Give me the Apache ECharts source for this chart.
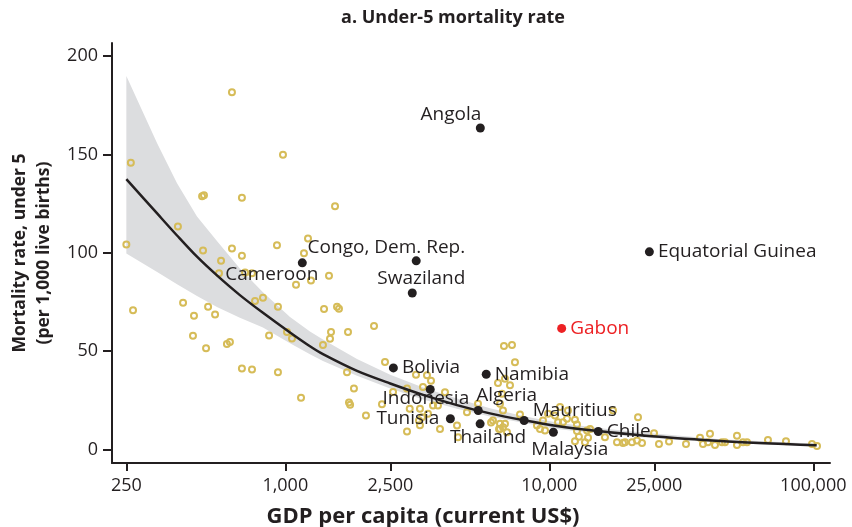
<!DOCTYPE html>
<html>
<head>
<meta charset="utf-8">
<script src="https://cdn.jsdelivr.net/npm/echarts@6/dist/echarts.min.js"></script>
<style>
  html, body { margin: 0; padding: 0; background: #fff; }
  #chart { width: 852px; height: 527px; }
</style>
</head>
<body>
<div id="chart"></div>
<script>
'use strict'

// axis ticks
const gdpTicks = [250, 1000, 2500, 10000, 25000, 100000]
const mortalityTicks = [0, 50, 100, 150, 200]

// fitted curve and its confidence band
const fitGdp = [250, 327, 389, 463, 551, 673, 823, 1042, 1240, 1389, 1869, 2497, 3327, 4470, 5960, 8020, 10690, 15290, 22080, 44400, 103000]
const fitMortality = [137.4, 120, 108.8, 98, 88.5, 78.5, 69.5, 59.5, 52.5, 48.5, 40, 33.6, 27.8, 22.6, 18.4, 14.9, 12, 9.4, 7.3, 4.4, 2.2]
const bandUpper = [189.8, 155.6, 135.3, 118.5, 106, 92, 80, 67.4, 60, 56, 46, 38, 31.5, 26, 21, 17, 13.8, 11, 8.8, 5.3, 3]
const bandLower = [99.7, 90.3, 84, 78, 72.5, 67, 62, 54, 48.5, 45, 37.5, 31, 25.5, 20.8, 16.8, 13.5, 10.5, 8.2, 6.3, 3.6, 1.5]

// all other countries: [gdp per capita, under-5 mortality]
const otherCountries = [
  [628, 181.6], [260, 145.8], [484, 128.7], [492, 129.2], [685, 128], [980, 149.8], [392, 113.4], [250, 104.2],
  [488, 101.2], [628, 102.2], [685, 98.5], [571, 95.9], [930, 103.9], [1177, 99.8], [1219, 107.3], [1543, 123.6],
  [561, 89.6], [704, 90], [748, 89.6], [1098, 83.8], [1251, 85.9], [1464, 88.4], [451, 68], [510, 72.6],
  [542, 68.7], [768, 75.5], [823, 77.2], [938, 72.6], [1402, 71.4], [1570, 72.6], [1597, 71.6], [2168, 62.8],
  [447, 57.8], [501, 51.5], [601, 53.6], [617, 54.7], [868, 58], [1015, 59.7], [1060, 56.5], [1490, 59.8],
  [1477, 56.3], [1728, 59.7], [1389, 53.1], [265, 70.8], [410, 74.6], [685, 41.2], [748, 40.7], [938, 39.3],
  [1147, 26.4], [2386, 44.5], [1713, 39.3], [1820, 31], [1743, 24], [1760, 22.8], [2021, 17.3], [2324, 23],
  [2891, 9.2], [3127, 38.1], [3441, 37.8], [3564, 35], [3323, 31.8], [2891, 31], [4026, 29.2], [3787, 22.4],
  [3237, 20.8], [3294, 16.5], [3471, 18.2], [3627, 22.4], [3209, 14.8], [3855, 10.5], [4472, 12.2], [4511, 6.3],
  [4878, 19], [5370, 23.3], [6016, 13.8], [6735, 52.6], [6393, 33.8], [6506, 23.3], [6677, 19.9], [6506, 10.5],
  [6677, 11.4], [7223, 53.1], [7413, 44.4], [6794, 36], [7098, 32.7], [6619, 28.4], [7745, 17.9], [6119, 14.8],
  [6506, 13.1], [6794, 13.1], [6450, 10.5], [6916, 8.8], [8982, 12.2], [9222, 10.5], [9633, 9.7], [9465, 14.8],
  [10790, 13.9], [11270, 13.9], [11670, 15.7], [12510, 15.2], [12730, 12.8], [12730, 9.4], [12950, 6.6], [13900, 9.7],
  [14020, 6], [13650, 3.7], [12510, 4.2], [14270, 10.5], [17430, 19.9], [16250, 6.3], [18050, 3.7], [19350, 3.7],
  [20570, 3.7], [21490, 4.6], [21680, 16.5], [11770, 19.9], [10980, 21.6], [9890, 18.2], [10510, 17.3], [24930, 8.3],
  [26030, 2.9], [28410, 4.1], [32950, 2.9], [19020, 3.4], [22450, 3.4], [37230, 6], [40620, 8], [39920, 3.7],
  [42430, 2.4], [45110, 3.7], [46300, 3.7], [51400, 7.1], [51400, 2.4], [54170, 3.7], [56090, 3.7], [38210, 2.9],
  [67350, 4.9], [78810, 4.2], [98880, 2.9], [103300, 1.9], [2560, 29.3], [3237, 12.4], [2960, 20.8]
]

// labelled countries
const highlightNames = ['Angola', 'Congo, Dem. Rep.', 'Cameroon', 'Swaziland', 'Equatorial Guinea', 'Gabon', 'Bolivia',
  'Namibia', 'Indonesia', 'Algeria', 'Tunisia', 'Thailand', 'Mauritius', 'Malaysia', 'Chile']
const highlightGdp = [5480, 3133, 1160, 3027, 23940, 11140, 2567, 5770, 3540, 5380, 4220, 5470, 8030, 10360, 15330]
const highlightMortality = [163.4, 95.9, 94.9, 79.6, 100.5, 61.6, 41.5, 38.3, 30.6, 19.9, 15.7, 13.1, 14.8, 8.8, 9.2]

const INK = '#231f20'
const RED = '#ed2124'
const GOLD = '#d6bc58'
const BAND = '#dcdddf'
const FONT = 'Open Sans'

// where each country label sits relative to its dot
const labelPlacement = {
  'Angola': { position: 'left', offset: [9.5, -13] },
  'Congo, Dem. Rep.': { position: 'left', offset: [57.5, -13] },
  'Cameroon': { position: 'left', offset: [24.5, 12] },
  'Swaziland': { position: 'right', offset: [-43.5, -14] },
  'Equatorial Guinea': { position: 'right', offset: [0, 0] },
  'Gabon': { position: 'right', offset: [0, 0] },
  'Bolivia': { position: 'right', offset: [0, 0] },
  'Namibia': { position: 'right', offset: [0, 0] },
  'Indonesia': { position: 'left', offset: [47.5, 9] },
  'Algeria': { position: 'right', offset: [-10.5, -15] },
  'Tunisia': { position: 'left', offset: [-2.5, 0] },
  'Thailand': { position: 'right', offset: [-38.5, 14] },
  'Mauritius': { position: 'right', offset: [0, -10] },
  'Malaysia': { position: 'right', offset: [-30.5, 17] },
  'Chile': { position: 'right', offset: [0, 0] }
}

const lg = v => Math.log10(v)

const highlightData = highlightNames.map((name, i) => {
  const color = name === 'Gabon' ? RED : INK
  return {
    name,
    value: [lg(highlightGdp[i]), highlightMortality[i]],
    itemStyle: { color, opacity: 1 },
    label: { ...labelPlacement[name], color }
  }
})

// confidence band as one polygon: upper edge left to right, lower edge back
function renderBand (params, api) {
  if (params.dataIndex !== 0) return null
  const upper = fitGdp.map((g, i) => api.coord([lg(g), bandUpper[i]]))
  const lower = fitGdp.map((g, i) => api.coord([lg(g), bandLower[i]])).reverse()
  return {
    type: 'polygon',
    shape: { points: upper.concat(lower) },
    style: { fill: BAND }
  }
}

const chart = echarts.init(document.getElementById('chart'), null, { renderer: 'canvas' })

chart.setOption({
  animation: false,
  textStyle: { fontFamily: FONT },
  grid: { left: 112, right: 22, top: 43, bottom: 64, outerBoundsMode: 'none', containLabel: false },
  graphic: [{
    type: 'text',
    x: 453,
    y: 18,
    style: {
      text: 'a. Under-5 mortality rate',
      fontFamily: FONT,
      fontSize: 18,
      fontWeight: 'bold',
      fill: INK,
      textAlign: 'center',
      textVerticalAlign: 'middle'
    }
  }],
  xAxis: {
    type: 'value',
    min: 2.3436,
    max: 5.0633,
    name: 'GDP per capita (current US$)',
    nameLocation: 'middle',
    nameGap: 43,
    nameTextStyle: { fontSize: 22, fontWeight: 'bold', color: INK, padding: [0, 96, 0, 0] },
    axisLine: { onZero: false, lineStyle: { color: INK, width: 2 } },
    axisTick: { customValues: gdpTicks.map(lg), length: 8, lineStyle: { color: INK, width: 2 } },
    axisLabel: {
      customValues: gdpTicks.map(lg),
      formatter: v => Math.round(10 ** v).toLocaleString('en-US'),
      fontSize: 18,
      color: INK,
      margin: 14
    },
    splitLine: { show: false }
  },
  yAxis: {
    type: 'value',
    min: -6.8,
    max: 206.6,
    name: 'Mortality rate, under 5\n(per 1,000 live births)',
    nameLocation: 'middle',
    nameGap: 55,
    nameTextStyle: { fontSize: 17.5, fontWeight: 'bold', color: INK, lineHeight: 24 },
    axisLine: { lineStyle: { color: INK, width: 2 } },
    axisTick: { customValues: mortalityTicks, length: 9, lineStyle: { color: INK, width: 2 } },
    axisLabel: { customValues: mortalityTicks, fontSize: 18, color: INK, margin: 14 },
    splitLine: { show: false }
  },
  series: [
    {
      type: 'custom',
      z: 1,
      silent: true,
      renderItem: renderBand,
      data: fitGdp.map((g, i) => [lg(g), bandUpper[i], bandLower[i]])
    },
    {
      type: 'scatter',
      z: 3,
      symbol: 'circle',
      symbolSize: 6,
      itemStyle: { color: 'rgba(0,0,0,0)', borderColor: GOLD, borderWidth: 2, opacity: 1 },
      data: otherCountries.map(([g, m]) => [lg(g), m])
    },
    {
      type: 'line',
      z: 4,
      symbol: 'none',
      smooth: 0.3,
      lineStyle: { color: INK, width: 2.5 },
      data: fitGdp.map((g, i) => [lg(g), fitMortality[i]])
    },
    {
      type: 'scatter',
      z: 5,
      symbolSize: 9,
      label: {
        show: true,
        formatter: '{b}',
        distance: 4,
        fontSize: 19,
        fontFamily: FONT
      },
      data: highlightData
    }
  ]
})
</script>
</body>
</html>
